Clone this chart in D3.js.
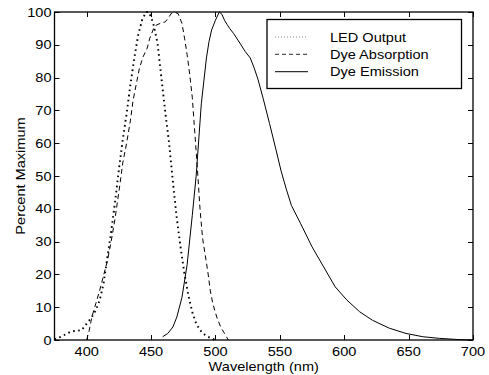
<!DOCTYPE html>
<html>
<head>
<meta charset="utf-8">
<script src="https://cdn.jsdelivr.net/npm/d3@7"></script>
<style>
  body { margin: 0; background: #fff; }
  text { font-family: "Liberation Sans", Arial, Helvetica, sans-serif; fill: #000; }
</style>
</head>
<body>
<script>
// Series data (wavelength in nm, percent of maximum)
const ledWl  = [375, 380, 385, 388, 392, 396, 400, 404, 407, 410, 413, 416, 419, 422, 425, 428, 431, 434, 437, 440, 443, 446, 448, 450, 452, 455, 458, 461, 464, 467, 470, 473, 476, 479, 482, 485, 488, 492, 496, 500];
const ledVal = [0.2, 1, 2, 2.6, 2.8, 3, 5, 7, 9, 12, 17, 25, 33, 42, 52, 61, 69, 78, 86, 93, 97.5, 100, 100, 98.5, 96, 90.5, 80, 69.5, 60, 48, 37, 28, 20, 13.5, 8.5, 5, 3, 1.5, 0.6, 0];

const absWl  = [400, 402, 404, 407, 410, 413, 416, 419, 422, 426, 428, 431, 434, 436, 439, 441, 444, 447, 449, 452, 454, 457, 461, 463, 466, 468, 471, 474, 476, 478, 480, 482, 484, 486, 488, 490, 492, 494, 496, 498, 501, 504, 507, 510];
const absVal = [0, 3, 7, 11, 15, 19.5, 24, 30, 37, 48, 54, 60, 67, 73, 79, 83, 86.5, 89, 92, 95, 96, 96.5, 97, 98, 99.7, 100, 99.5, 96.5, 92, 87, 81, 74, 63, 52, 40, 31, 26, 21, 15, 11, 7, 4, 2, 0];

const emWl  = [459, 463, 467, 470, 474, 478, 482, 485, 489, 491, 493, 495, 497, 500, 503, 505, 507, 509, 511, 514, 519, 523, 527, 530, 533, 537, 542, 547, 551, 555, 559, 566, 575, 584, 593, 602, 612, 622, 635, 648, 661, 674, 690, 700];
const emVal = [1, 2, 4, 7, 13, 23, 38, 50, 72, 79, 86, 91, 94.5, 97.5, 100, 99.3, 97.5, 96.2, 95, 93.5, 90.5, 88, 86, 83, 79.5, 73.7, 66, 58, 51.5, 46, 41, 35.6, 28.4, 22.3, 16.2, 12.2, 8.6, 6, 3.6, 2, 1, 0.5, 0.1, 0];

const xTicks = [400, 450, 500, 550, 600, 650, 700];
const yTicks = [0, 10, 20, 30, 40, 50, 60, 70, 80, 90, 100];
const seriesNames = ['LED Output', 'Dye Absorption', 'Dye Emission'];

const W = 489, H = 375;
const margin = { top: 12, right: 16, bottom: 35, left: 54.5 };
const fontSize = 13, stretch = 1.12;

const svg = d3.select('body').append('svg')
  .attr('width', W)
  .attr('height', H);

const x = d3.scaleLinear().domain([375, 700]).range([margin.left, W - margin.right]);
const y = d3.scaleLinear().domain([0, 100]).range([H - margin.bottom, margin.top]);

const x0 = x.range()[0], x1 = x.range()[1];
const y0 = y.range()[0], y1 = y.range()[1];

// Ticks drawn inwards on all four sides
const tickLen = 5;
const ticks = svg.append('g').attr('stroke', '#000').attr('stroke-width', 1);
xTicks.forEach(t => {
  const px = Math.round(x(t)) + 0.5;
  ticks.append('line').attr('x1', px).attr('x2', px).attr('y1', y0).attr('y2', y0 - tickLen);
  ticks.append('line').attr('x1', px).attr('x2', px).attr('y1', y1).attr('y2', y1 + tickLen);
});
yTicks.forEach(t => {
  const py = Math.round(y(t)) + 0.5;
  ticks.append('line').attr('x1', x0).attr('x2', x0 + tickLen).attr('y1', py).attr('y2', py);
  ticks.append('line').attr('x1', x1).attr('x2', x1 - tickLen).attr('y1', py).attr('y2', py);
});

// Text helper: slightly wider glyphs like the original
function label(px, py, str, anchor, rot) {
  return svg.append('text')
    .attr('transform', `translate(${px},${py})` + (rot ? ` rotate(${rot})` : '') + ` scale(${stretch},1)`)
    .attr('text-anchor', anchor)
    .style('font-size', fontSize + 'px')
    .text(str);
}

xTicks.forEach(t => label(x(t), 356, t, 'middle'));
yTicks.forEach(t => label(51.5, y(t) + 4.5, t, 'end'));
label((x0 + x1) / 2, 371, 'Wavelength (nm)', 'middle');
label(25, (y0 + y1) / 2, 'Percent Maximum', 'middle', -90);

// Curves
const line = d3.line().x(d => x(d[0])).y(d => y(d[1]));
const styles = [
  { dash: '1.6,3.5', width: 1.9 },
  { dash: '5,3.5', width: 1 },
  { dash: null, width: 1 }
];
const series = [
  d3.zip(ledWl, ledVal),
  d3.zip(absWl, absVal),
  d3.zip(emWl, emVal)
];
series.forEach((s, i) => {
  svg.append('path')
    .datum(s)
    .attr('fill', 'none')
    .attr('stroke', '#000')
    .attr('stroke-width', styles[i].width)
    .attr('stroke-dasharray', styles[i].dash)
    .attr('d', line);
});

// Axes box
svg.append('rect')
  .attr('x', x0).attr('y', y1)
  .attr('width', x1 - x0).attr('height', y0 - y1)
  .attr('fill', 'none').attr('stroke', '#000').attr('stroke-width', 1.3);

// Legend
const leg = svg.append('g');
leg.append('rect')
  .attr('x', 267).attr('y', 19.5)
  .attr('width', 194.5).attr('height', 69)
  .attr('fill', '#fff').attr('stroke', '#000').attr('stroke-width', 1.3);
const legStyles = [
  { dash: '1,2', width: 1, color: '#888' },
  { dash: '4,3', width: 1.2, color: '#555' },
  { dash: null, width: 1.2, color: '#333' }
];
seriesNames.forEach((n, i) => {
  const by = 41.5 + i * 17.3;
  leg.append('line')
    .attr('x1', 275).attr('x2', 308)
    .attr('y1', by - 4.5).attr('y2', by - 4.5)
    .attr('stroke', legStyles[i].color)
    .attr('stroke-width', legStyles[i].width)
    .attr('stroke-dasharray', legStyles[i].dash);
  label(330, by, n, 'start');
});
</script>
</body>
</html>
